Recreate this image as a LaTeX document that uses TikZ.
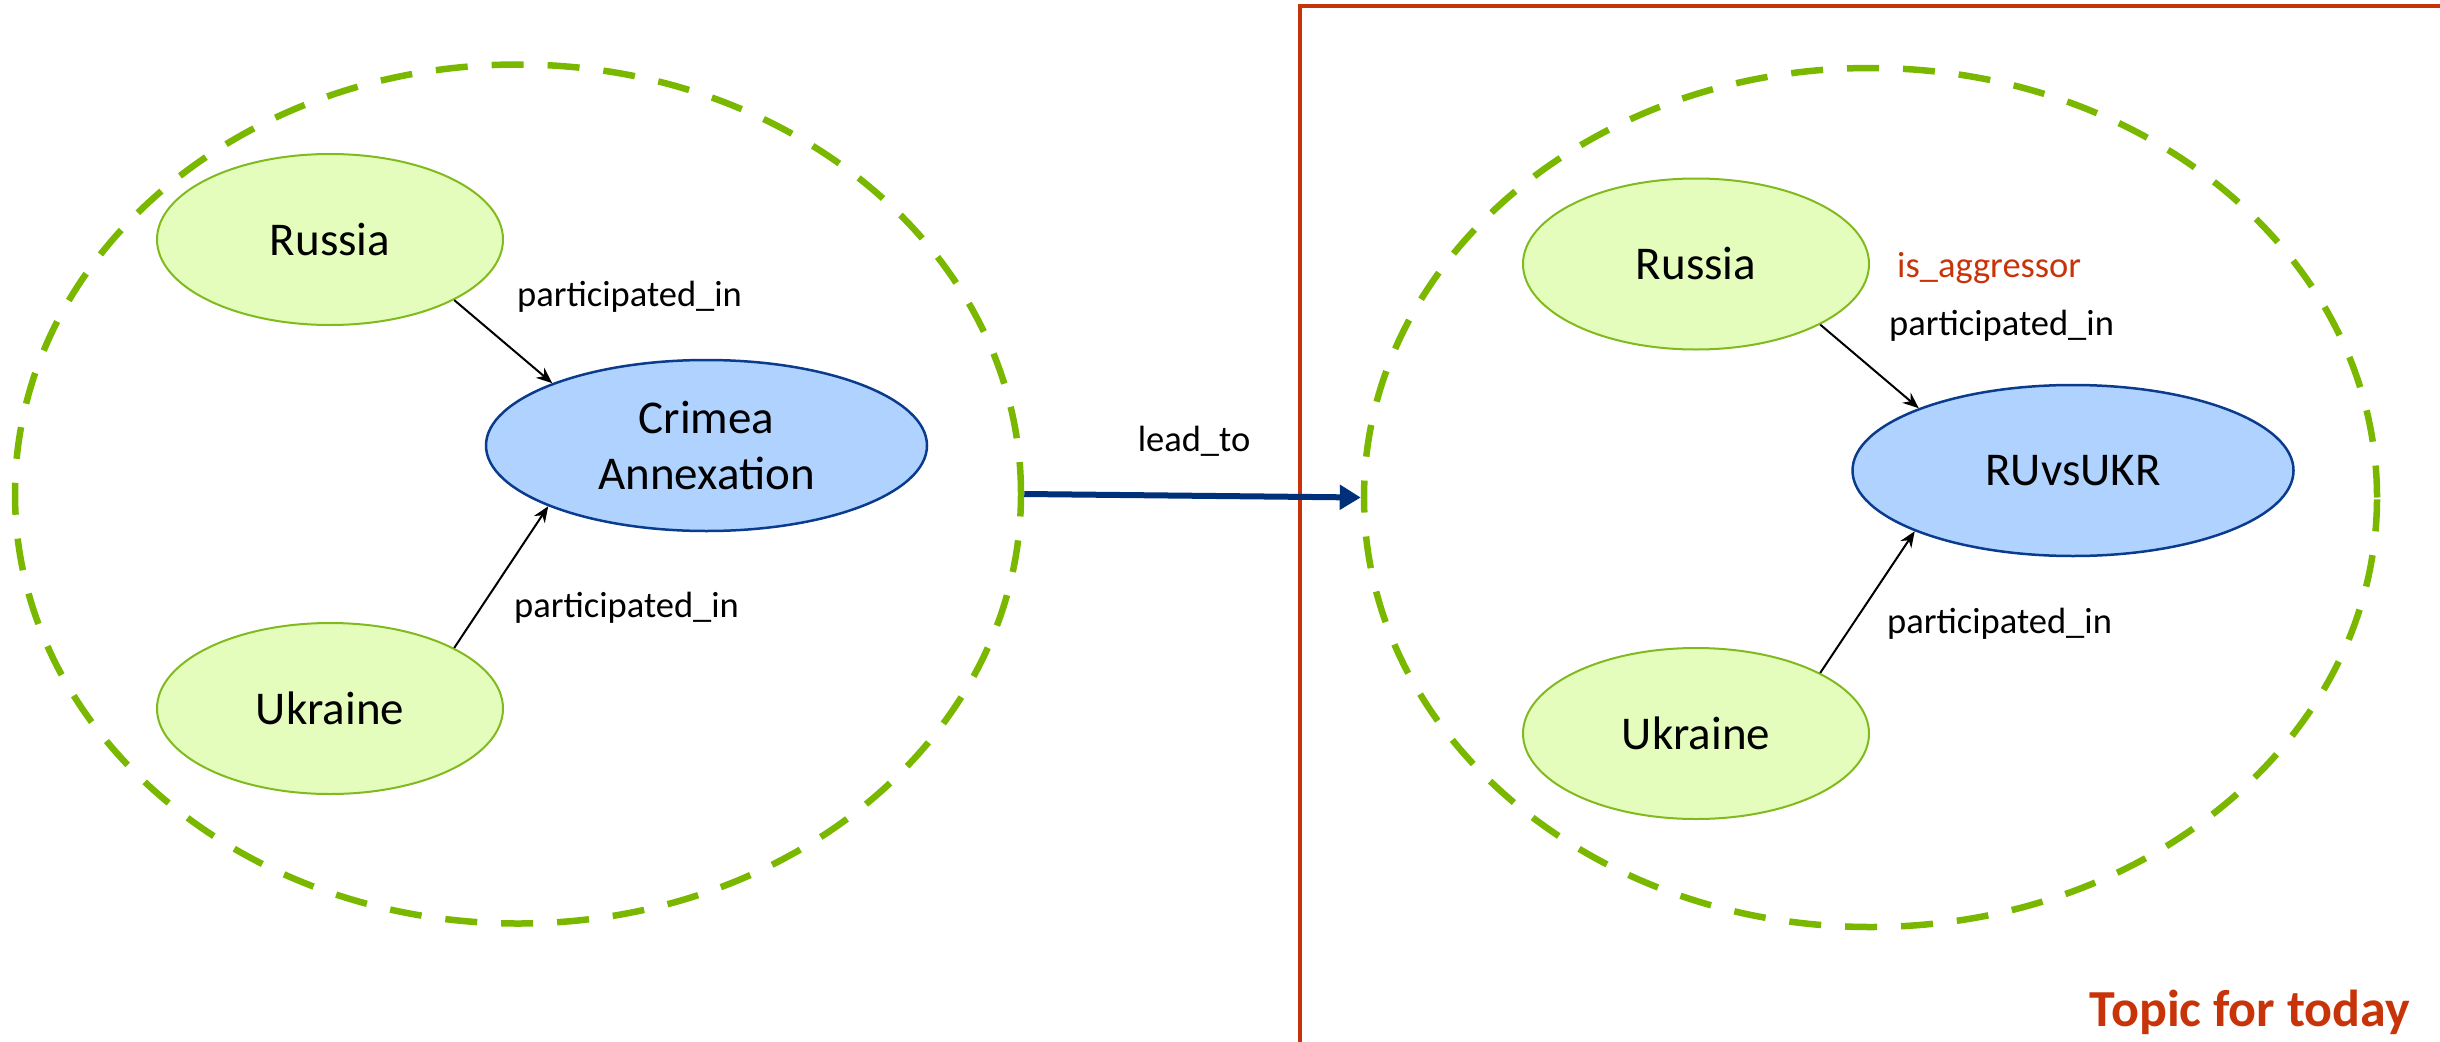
\documentclass[tikz,border=0pt]{standalone}
\usepackage{fontspec}
\setmainfont{Carlito}
\usetikzlibrary{shapes.geometric,arrows.meta}

\definecolor{leaffill}{HTML}{E4FDBC}
\definecolor{leafline}{HTML}{80BA1E}
\definecolor{groupline}{HTML}{7AB800}
\definecolor{eventfill}{HTML}{AFD2FF}
\definecolor{eventline}{HTML}{0B3B8C}
\definecolor{navy}{HTML}{00307A}
\definecolor{topicred}{HTML}{C8340A}

\tikzset{
  group/.style={ellipse, draw=groupline, line width=6.5pt, dash pattern=on 32pt off 24pt,
    inner sep=0pt, minimum width=1006pt, minimum height=859pt},
  country/.style={ellipse, draw=leafline, fill=leaffill, line width=2pt, inner sep=0pt,
    minimum width=346pt, minimum height=171pt, font=\fontsize{47}{56}\selectfont},
  event/.style={ellipse, draw=eventline, fill=eventfill, line width=2.5pt, inner sep=0pt,
    minimum width=441pt, minimum height=171pt, align=center, font=\fontsize{47}{56}\selectfont},
  rel/.style={draw=black, line width=2pt, -{Stealth[length=16pt, width=13pt]}},
  rellabel/.style={anchor=base west, inner sep=0pt, font=\fontsize{36.5}{40}\selectfont},
  leadarrow/.style={draw=navy, line width=6pt, -{Triangle[length=21pt, width=24pt]}},
}

\begin{document}
\begin{tikzpicture}[x=1pt, y=-1pt]
  \useasboundingbox (0,0) rectangle (2440,1041);

  % today's topic frame, running off the page edges
  \begin{scope}
    \clip (0,0) rectangle (2440,1041);
    \draw[topicred, line width=3.5pt] (1300,6) rectangle (2460,1060);
  \end{scope}

  % grouping circles
  \node[group] (past) at (518,494) {};
  \node[group, minimum width=1013pt] (today) at (1870.5,497.5) {};

  % left: the annexation
  \node[country] (ruL) at (330,239.5) {Russia};
  \node[country] (uaL) at (330,708.5) {Ukraine};
  \node[event] (crimea) at (706.5,445.5) {Crimea\\Annexation};

  \draw[rel] (ruL.-26.4) -- (crimea.158.8);
  \draw[rel] (uaL.26.4) -- (crimea.201.1);
  \node[rellabel] (pl1) at (517,306) {participated\_in};
  \node[rellabel] (pl2) at (514,617) {participated\_in};

  % right: the war
  \node[country] (ruR) at (1696,264) {Russia};
  \node[country] (uaR) at (1696,733.5) {Ukraine};
  \node[event] (war) at (2073,470.5) {RUvsUKR};

  \draw[rel] (ruR.-26.4) -- (war.158.5);
  \draw[rel] (uaR.26.4) -- (war.201.1);
  \node[rellabel, text=topicred] (aggr) at (1897,277) {is\_aggressor};
  \node[rellabel] (pr1) at (1889,335) {participated\_in};
  \node[rellabel] (pr2) at (1887,633) {participated\_in};

  % link between the two groups
  \draw[leadarrow] (past.east) -- (today.west);
  \node[anchor=base, inner sep=0pt, font=\fontsize{36.5}{40}\selectfont] (lead) at (1194,451) {lead\_to};

  \node[anchor=base east, inner sep=0pt, text=topicred, font=\fontsize{52}{60}\selectfont\bfseries] (topic) at (2410,1026) {Topic for today};
\end{tikzpicture}
\end{document}
